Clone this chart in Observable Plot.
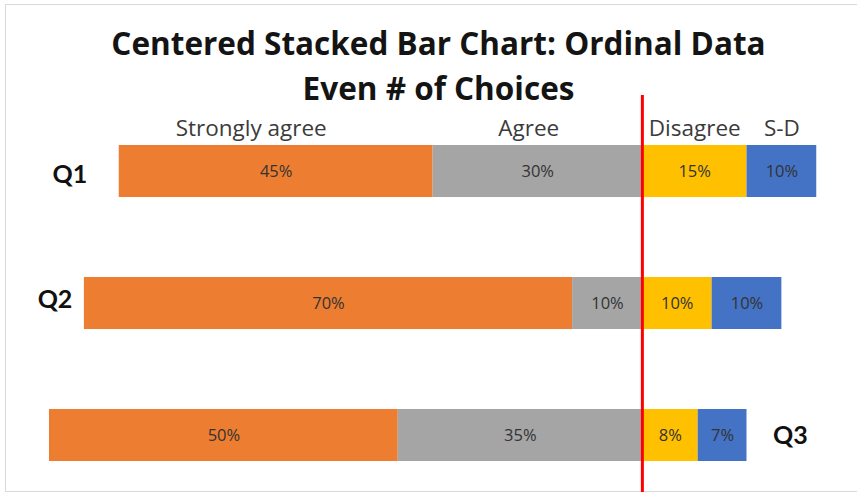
<!DOCTYPE html>
<html>
<head>
<meta charset="utf-8">
<script src="https://cdn.jsdelivr.net/npm/d3@7"></script>
<script src="https://cdn.jsdelivr.net/npm/@observablehq/plot@0.6"></script>
<style>
  html, body { margin: 0; padding: 0; background: #fff; overflow: hidden; }
  #wrap { position: relative; width: 857px; height: 498px; overflow: hidden; font-family: "Open Sans", Lato, sans-serif; }
  #frame { position: absolute; left: 5px; top: 4px; width: 900px; height: 488px; border: 1px solid #d9d9d9; box-sizing: border-box; }
  .title { position: absolute; left: 20px; width: 837px; text-align: center; font-weight: 700; font-size: 31.5px; line-height: 36px; color: #141414; white-space: nowrap; }
  #chart { position: absolute; left: 0; top: 0; }
</style>
</head>
<body>
<div id="wrap">
  <div id="frame"></div>
  <div id="chart"></div>
  <div class="title" style="top:25px">Centered Stacked Bar Chart: Ordinal Data</div>
  <div class="title" style="top:70px">Even # of Choices</div>
</div>
<script>
const questions = ["Q1", "Q2", "Q3"];
const categories = ["Strongly agree", "Agree", "Disagree", "S-D"];
const stronglyAgree = [45, 70, 50];
const agree = [30, 10, 35];
const disagree = [15, 10, 8];
const stronglyDisagree = [10, 10, 7];
const colors = ["#ED7D31", "#A5A5A5", "#FFC000", "#4472C4"];

const rows = [];
questions.forEach((q, i) => {
  const sa = stronglyAgree[i], a = agree[i], d = disagree[i], sd = stronglyDisagree[i];
  rows.push({q, cat: categories[0], x1: -(sa + a), x2: -a, v: sa});
  rows.push({q, cat: categories[1], x1: -a, x2: 0, v: a});
  rows.push({q, cat: categories[2], x1: 0, x2: d, v: d});
  rows.push({q, cat: categories[3], x1: d, x2: d + sd, v: sd});
});
const q1 = rows.filter(r => r.q === "Q1");
const mid = r => (r.x1 + r.x2) / 2;
const catLabel = (cat, dx) => Plot.text(q1.filter(r => r.cat === cat), {
  x: mid, y: "q", text: "cat", dy: -36, dx, lineAnchor: "bottom",
  fontSize: 22.5, fill: "#3b3b3b"
});
const qFont = "Lato, 'Open Sans', sans-serif";
const qLeft = (q, dx, dy) => Plot.text(rows.filter(r => r.q === q && r.cat === categories[0]), {
  x: "x1", y: "q", text: "q", dx, dy, textAnchor: "end", lineAnchor: "middle",
  fontSize: 25, fontWeight: 700, fill: "#111", fontFamily: qFont
});
const qRight = (q, dx, dy) => Plot.text(rows.filter(r => r.q === q && r.cat === categories[3]), {
  x: "x2", y: "q", text: "q", dx, dy, textAnchor: "start", lineAnchor: "middle",
  fontSize: 25, fontWeight: 700, fill: "#111", fontFamily: qFont
});

const chart = Plot.plot({
  width: 857,
  height: 498,
  marginTop: 95,
  marginBottom: 6,
  marginLeft: 0,
  marginRight: 0,
  style: {fontFamily: "'Open Sans', Lato, sans-serif", background: "transparent", overflow: "visible"},
  x: {domain: [-85, 25], range: [49, 816.25], axis: null},
  y: {domain: questions, range: [131.8, 474.2], paddingInner: 0.606, paddingOuter: 0.1, axis: null, round: false},
  color: {domain: categories, range: colors},
  marks: [
    Plot.barX(rows, {x1: "x1", x2: "x2", y: "q", fill: "cat"}),
    Plot.text(rows, {x: mid, y: "q", text: d => d.v + "%", fontSize: 16.5, fill: "#333", lineAnchor: "middle"}),
    catLabel("Strongly agree", -25),
    catLabel("Agree", -9),
    catLabel("Disagree", 0),
    catLabel("S-D", 0),
    qLeft("Q1", -32, 3),
    qLeft("Q2", -12, -4),
    qRight("Q3", 26, 1),
    Plot.ruleX([0], {stroke: "#FF0000", strokeWidth: 3})
  ]
});
document.getElementById("chart").appendChild(chart);
</script>
</body>
</html>
